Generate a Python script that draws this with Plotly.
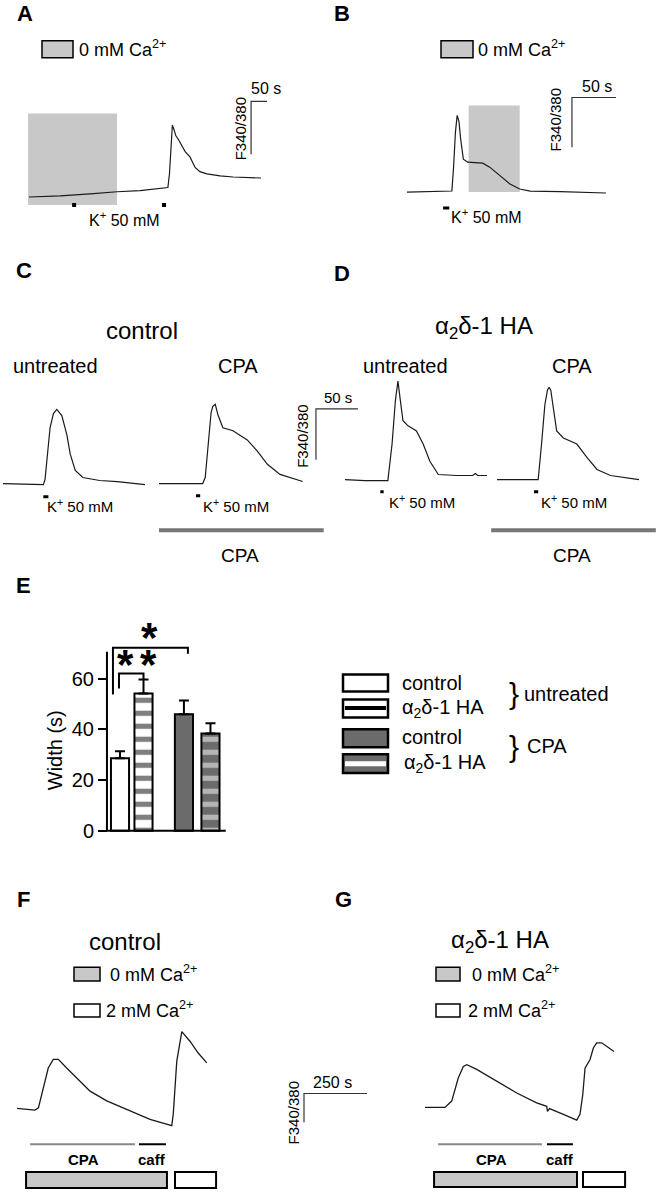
import plotly.graph_objects as go

W, H = 659, 1199
FONT = "Liberation Sans, Arial, sans-serif"

### DATA (time in s, F340/380 ratio in arbitrary units) ###
# A: 0 mM Ca2+ then K+ 50 mM in normal Ca2+
A_t = [0, 97, 191, 275, 347, 409, 434, 439, 444, 448, 453, 459, 466, 478, 488, 503, 519, 534, 556, 597, 638, 725]
A_r = [0.50, 0.51, 0.53, 0.55, 0.56, 0.58, 0.59, 0.72, 1.05, 1.18, 1.14, 1.08, 1.05, 0.98, 0.93, 0.88, 0.78, 0.74, 0.72, 0.70, 0.69, 0.68]
A_zero_ca = [-3, 275]
A_stim = [141, 422]

# B: K+ 50 mM then 0 mM Ca2+ during decay
B_t = [0, 26, 51, 53, 55, 57, 59, 61, 64, 69, 86, 94, 106, 117, 128, 140, 174, 226]
B_r = [0.50, 0.505, 0.51, 0.76, 1.10, 1.27, 1.21, 1.03, 0.83, 0.80, 0.79, 0.75, 0.66, 0.58, 0.53, 0.51, 0.505, 0.49]
B_zero_ca = [70, 128]
B_stim = [41, 48]

# C: control, untreated / CPA
C1_t = [0, 20, 48, 50, 52, 56, 60, 64, 70, 76, 80, 86, 95, 115, 136, 169]
C1_r = [0.50, 0.495, 0.49, 0.54, 0.73, 1.05, 1.19, 1.23, 1.17, 0.98, 0.79, 0.63, 0.56, 0.53, 0.52, 0.49]
C2_t = [0, 25, 52, 55, 57, 60, 62, 64, 67, 70, 76, 88, 105, 117, 129, 144, 171]
C2_r = [0.50, 0.50, 0.50, 0.56, 0.73, 1.00, 1.20, 1.26, 1.28, 1.18, 1.05, 1.02, 0.93, 0.82, 0.69, 0.59, 0.52]
C_stim = [[48, 54], [44, 49]]
C_cpa = [0, 196]

# D: alpha2delta-1 HA, untreated / CPA
D1_t = [0, 24, 51, 56, 60, 63, 66, 69, 75, 85, 93, 101, 111, 133, 152, 155, 158, 169]
D1_r = [0.50, 0.49, 0.49, 0.85, 1.28, 1.47, 1.27, 1.08, 1.03, 0.98, 0.85, 0.68, 0.55, 0.54, 0.54, 0.56, 0.54, 0.54]
D2_t = [0, 25, 49, 53, 57, 60, 62, 64, 67, 71, 79, 95, 107, 119, 135, 169]
D2_r = [0.50, 0.50, 0.50, 0.85, 1.24, 1.38, 1.41, 1.38, 1.21, 0.98, 0.91, 0.85, 0.72, 0.60, 0.54, 0.50]
D_stim = [[42, 46], [44, 49]]
D_cpa = [-7, 189]

# E: width of K+ response (s)
E_groups = ["control", "a2d-1 HA", "control CPA", "a2d-1 HA CPA"]
E_x = [1, 2, 3.72, 4.85]
E_mean = [28.6, 54.1, 45.9, 38.4]
E_sem = [2.8, 5.5, 5.5, 4.0]
E_ticks = [0, 20, 40, 60]

# F / G: CPA in 0 Ca2+, caffeine, then 2 mM Ca2+
F_t = [0, 71, 85, 104, 124, 144, 164, 197, 237, 290, 356, 435, 528, 614, 620, 634, 654, 687, 719, 753]
F_r = [0.50, 0.47, 0.51, 0.86, 1.20, 1.35, 1.35, 1.20, 1.03, 0.80, 0.63, 0.48, 0.31, 0.20, 0.40, 1.32, 1.83, 1.66, 1.46, 1.29]
G_t = [0, 79, 106, 132, 152, 166, 205, 285, 364, 443, 483, 486, 494, 549, 602, 615, 626, 635, 655, 668, 681, 701, 727, 750]
G_r = [0.50, 0.50, 0.61, 1.01, 1.21, 1.24, 1.16, 0.95, 0.75, 0.58, 0.52, 0.43, 0.48, 0.38, 0.28, 0.38, 0.72, 1.18, 1.33, 1.53, 1.62, 1.62, 1.54, 1.47]
F_cpa, F_caff, F_zero_ca, F_two_ca = [52, 468], [484, 591], [36, 595], [627, 790]
G_cpa, G_caff, G_zero_ca, G_two_ca = [52, 464], [484, 587], [36, 603], [627, 794]

SCALE_T_SHORT = 50
SCALE_T_LONG = 250
SCALE_R = 0.5

### LAYOUT FRAMES ###
# name: px left, px right, px top, px bottom, px of t=0, s per px, px of r=0.5, px per ratio unit
frames = {
    "A": (20, 290, 95, 215, 29, 3.125, 198, 106),
    "B": (395, 640, 85, 215, 407, 1.136, 193, 100),
    "C1": (0, 152, 395, 520, 3, 1.19, 486, 102),
    "C2": (155, 365, 395, 545, 159, 1.19, 486, 102),
    "D1": (340, 490, 375, 520, 345, 1.19, 482, 102),
    "D2": (490, 659, 375, 545, 497, 1.19, 482, 102),
    "F": (10, 225, 1025, 1198, 17, 3.968, 1114, 58),
    "G": (415, 640, 1025, 1198, 425, 3.968, 1113, 58),
    "SB": (295, 375, 1090, 1135, 304, 3.968, 1128, 58),
}

fig = go.Figure()
lay = {}
ax = {}
for i, (name, fr) in enumerate(frames.items(), start=1):
    x0, x1, y0, y1, ox, sx, oy, sy = fr
    s = "" if i == 1 else str(i)
    lay["xaxis" + s] = dict(domain=[x0 / W, min(x1 / W, 1)], range=[(x0 - ox) * sx, (x1 - ox) * sx],
                            visible=False, anchor="y" + s)
    lay["yaxis" + s] = dict(domain=[1 - y1 / H, 1 - y0 / H], range=[0.5 + (oy - y1) / sy, 0.5 + (oy - y0) / sy],
                            visible=False, anchor="x" + s)
    ax[name] = ("x" + s, "y" + s)

# panel E axes
ei = len(frames) + 1
es = str(ei)
lay["xaxis" + es] = dict(domain=[97 / W, 227 / W], range=[1 + (97 - 120) / 23.5, 1 + (227 - 120) / 23.5],
                         visible=False, anchor="y" + es)
lay["yaxis" + es] = dict(domain=[1 - 840 / H, 1 - 645 / H], range=[(835 - 840) / 2.55, (835 - 645) / 2.55],
                         anchor="free", position=107 / W, showgrid=False, zeroline=False, showline=False,
                         ticks="outside", ticklen=9, tickwidth=2, tickcolor="black",
                         tickvals=E_ticks, tickfont=dict(size=20, color="black", family=FONT))
ax["E"] = ("x" + es, "y" + es)

shapes = []
annotations = []


def line(panel, x, y, color="#1a1a1a", width=1.2):
    xa, ya = ax[panel]
    fig.add_trace(go.Scatter(x=x, y=y, xaxis=xa, yaxis=ya, mode="lines", line=dict(color=color, width=width),
                             hoverinfo="skip", showlegend=False))


def drect(panel, t, r0, r1, fill, lw=0):
    xa, ya = ax[panel]
    shapes.append(dict(type="rect", xref=xa, yref=ya, x0=t[0], x1=t[1], y0=r0, y1=r1, fillcolor=fill,
                       line=dict(color="black", width=lw), layer="below"))


def prect(x0, y0, x1, y1, fill, lw=0):
    shapes.append(dict(type="rect", xref="paper", yref="paper", x0=x0 / W, x1=x1 / W, y0=1 - y1 / H, y1=1 - y0 / H,
                       fillcolor=fill, line=dict(color="black", width=lw)))


def txt(s, x, y, size, anchor="center", angle=0):
    annotations.append(dict(text=s, x=x / W, y=1 - y / H, xref="paper", yref="paper", showarrow=False,
                            xanchor=anchor, yanchor="middle", textangle=angle,
                            font=dict(size=size, color="black", family=FONT)))


def scalebar(panel, t0, r0, tlen):
    line(panel, [t0, t0, t0 + tlen], [r0, r0 + SCALE_R, r0 + SCALE_R], color="#333", width=1.2)


GRAY = "#c8c8c8"
CA0 = "0 mM Ca<sup>2+</sup>"
CA2 = "2 mM Ca<sup>2+</sup>"
K50 = "K<sup>+</sup> 50 mM"
A2D = "\u03b1<sub>2</sub>\u03b4-1 HA"
LET = 22

### A ###
drect("A", A_zero_ca, 0.4245, 1.292, GRAY)
line("A", A_t, A_r)
fig.add_trace(go.Scatter(x=A_stim, y=[0.4245] * len(A_stim), xaxis=ax["A"][0], yaxis=ax["A"][1], mode="markers",
                         marker=dict(symbol="square", size=4, color="black"), hoverinfo="skip", showlegend=False))
scalebar("A", 694, 0.906, SCALE_T_SHORT)
prect(42, 41, 73, 58, GRAY, 1.5)
txt(CA0, 77, 49, 18, "left")
txt(K50, 124, 220, 16)
txt("50 s", 266, 89, 16)
txt("F340/380", 240, 130, 15, angle=-90)
txt("<b>A</b>", 25, 14, LET)

### B ###
drect("B", B_zero_ca, 0.5, 1.37, GRAY)
line("B", B_t, B_r)
line("B", B_stim, [0.34, 0.34], color="black", width=3)
scalebar("B", 187.4, 0.95, SCALE_T_SHORT)
prect(441, 41, 473, 58, GRAY, 1.5)
txt(CA0, 476, 49, 18, "left")
txt(K50, 487, 217, 16)
txt("50 s", 597, 87, 16)
txt("F340/380", 555, 121, 15, angle=-90)
txt("<b>B</b>", 342, 14, LET)

### C ###
line("C1", C1_t, C1_r)
line("C2", C2_t, C2_r)
line("C1", C_stim[0], [0.37, 0.37], color="black", width=3)
line("C2", C_stim[1], [0.38, 0.38], color="black", width=3)
line("C2", C_cpa, [0.04, 0.04], color="#777", width=4)
scalebar("C2", 186.8, 0.735, SCALE_T_SHORT)
txt("<b>C</b>", 24, 272, LET)
txt("control", 142, 332, 24)
txt("untreated", 55, 368, 20)
txt("CPA", 238, 368, 20)
txt(K50, 80, 508, 15)
txt(K50, 236, 508, 15)
txt("CPA", 240, 558, 19)
txt("50 s", 338, 399, 15)
txt("F340/380", 303, 439, 15, angle=-90)

### D ###
line("D1", D1_t, D1_r)
line("D2", D2_t, D2_r)
line("D1", D_stim[0], [0.38, 0.38], color="black", width=3)
line("D2", D_stim[1], [0.38, 0.38], color="black", width=3)
line("D2", D_cpa, [0.0, 0.0], color="#777", width=4)
txt("<b>D</b>", 342, 275, LET)
txt(A2D, 484, 329, 24)
txt("untreated", 405, 368, 20)
txt("CPA", 572, 368, 20)
txt(K50, 422, 504, 15)
txt(K50, 574, 504, 15)
txt("CPA", 572, 558, 19)

### E ###
fills = ["white", "white", "#6b6b6b", "#6b6b6b"]
pats = ["", "-", "", "-"]
fgs = ["black", "black", "black", "white"]
for i in range(len(E_x)):
    fig.add_trace(go.Bar(
        x=[E_x[i]], y=[E_mean[i]], width=0.77, xaxis=ax["E"][0], yaxis=ax["E"][1], name=E_groups[i],
        marker=dict(color=fills[i], line=dict(color="black", width=2),
                    pattern=dict(shape=pats[i], fgcolor=fgs[i], bgcolor=fills[i], size=13, solidity=0.4)),
        error_y=dict(type="data", array=[E_sem[i]], arrayminus=[0], symmetric=False,
                     color="black", thickness=2, width=5),
        hoverinfo="skip", showlegend=False))
# axis lines
line("E", [0.445, 0.445], [0, 70.6], color="black", width=2)
line("E", [0.445, 5.5], [0, 0], color="black", width=2)
# significance brackets
line("E", [0.956, 0.956, E_x[1], E_x[1]], [56.1, 62.0, 62.0, E_mean[1] + E_sem[1]], color="black", width=2)
line("E", [0.70, 0.70, 3.89, 3.89], [53.7, 72.2, 72.2, 69.8], color="black", width=2)
txt("<b>*</b>", 125, 668, 42)
txt("<b>*</b>", 148, 668, 42)
txt("<b>*</b>", 149, 641, 42)
txt("Width (s)", 55, 754, 20, angle=-90)
txt("<b>E</b>", 23, 588, LET)

# legend E
prect(343, 678, 388, 695, "white", 2.5)
prect(343, 703, 388, 721, "white", 2.5)
prect(345, 709.5, 386, 713.5, "black")
prect(343, 733, 388, 751, "#6b6b6b", 2.5)
prect(343, 758, 388, 777, "#6b6b6b", 2.5)
prect(345, 765, 386, 770, "white")
txt("control", 400, 686, 20, "left")
txt(A2D, 400, 712, 20, "left")
txt("control", 400, 741, 20, "left")
txt(A2D, 402, 767, 20, "left")
txt("}", 514, 697, 30)
txt("untreated", 522, 697, 20, "left")
txt("}", 514, 750, 30)
txt("CPA", 525, 750, 20, "left")

### F / G ###
for p, tt, rr, cpa, caff, z, two, r_bar in [
        ("F", F_t, F_r, F_cpa, F_caff, F_zero_ca, F_two_ca, -0.12),
        ("G", G_t, G_r, G_cpa, G_caff, G_zero_ca, G_two_ca, -0.14)]:
    line(p, tt, rr, width=1.3)
    line(p, cpa, [r_bar, r_bar], color="#888", width=2)
    line(p, caff, [r_bar, r_bar], color="black", width=2)
    rtop = -0.603 if p == "F" else -0.621
    drect(p, z, rtop, -0.879, GRAY, 2)
    drect(p, two, rtop, -0.879, "white", 2)

scalebar("SB", 0, 0.5, SCALE_T_LONG)
txt("250 s", 332, 1088, 16)
txt("F340/380", 293, 1119, 15, angle=-90)

txt("<b>F</b>", 23, 904, LET)
txt("control", 125, 946, 24)
prect(74, 972, 100, 986, GRAY, 1.5)
prect(74, 1009, 100, 1022, "white", 1.5)
txt(CA0, 108, 978, 18, "left")
txt(CA2, 104, 1015, 18, "left")
txt("<b>CPA</b>", 83, 1165, 15)
txt("<b>caff</b>", 152, 1165, 15)

txt("<b>G</b>", 343, 904, LET)
txt(A2D, 500, 946, 24)
prect(436, 972, 460, 986, GRAY, 1.5)
prect(436, 1009, 460, 1022, "white", 1.5)
txt(CA0, 470, 978, 18, "left")
txt(CA2, 466, 1015, 18, "left")
txt("<b>CPA</b>", 492, 1165, 15)
txt("<b>caff</b>", 560, 1165, 15)

fig.update_layout(
    width=W, height=H, margin=dict(l=0, r=0, t=0, b=0),
    paper_bgcolor="white", plot_bgcolor="rgba(0,0,0,0)",
    font=dict(family=FONT, color="black"),
    barmode="overlay", shapes=shapes, annotations=annotations, showlegend=False,
    **lay)

# drop the default page margin so the figure sits at the top-left corner; no modebar
fig.write_html("out.html", config={"displayModeBar": False},
               post_script="document.body.style.margin='0';")
